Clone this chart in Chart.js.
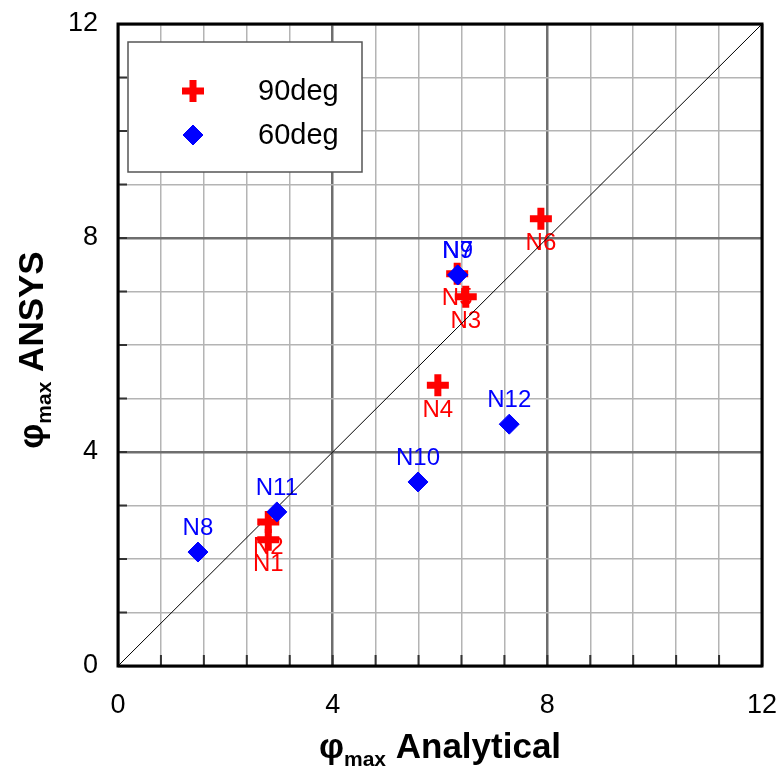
<!DOCTYPE html>
<html><head><meta charset="utf-8">
<script src="https://cdn.jsdelivr.net/npm/chart.js@4.4.1/dist/chart.umd.min.js"></script>
<style>html,body{margin:0;padding:0;background:#fff}#wrap{width:782px;height:774px}</style>
</head><body><div id="wrap"><canvas id="c" width="782" height="774"></canvas></div>
<script>
// ---- data ----
const seriesNames = ['90deg', '60deg'];
const labels90 = ['N1', 'N2', 'N3', 'N4', 'N5', 'N6'];
const x90 = [2.80, 2.80, 6.48, 5.96, 6.32, 7.88];
const y90 = [2.36, 2.69, 6.90, 5.25, 7.33, 8.36];
const labels60 = ['N7', 'N8', 'N9', 'N10', 'N11', 'N12'];
const x60 = [6.33, 1.49, 6.33, 5.59, 2.96, 7.29];
const y60 = [7.31, 2.13, 7.31, 3.44, 2.88, 4.52];
const diagX = [0, 12];
const diagY = [0, 12];
const xTickLabels = [0, 4, 8, 12];
const yTickLabels = [0, 4, 8, 12];
const xTitleMain = 'Analytical';
const yTitleMain = 'ANSYS';
const titleSymbol = 'φ';
const titleSub = 'max';

const RED = '#ff0000', BLUE = '#0000ff';
const FONT = '"Liberation Sans", Arial, sans-serif';

const pts = (xs, ys) => xs.map((x, i) => ({x: x, y: ys[i]}));
const isMajor = (v, list) => list.some(t => Math.abs(t - v) < 1e-6);

function gridColor(list) {
  return ctx => (ctx.tick && isMajor(ctx.tick.value, list)) ? '#6e6e6e' : '#b4b4b4';
}
function gridWidth(list) {
  return ctx => (ctx.tick && isMajor(ctx.tick.value, list)) ? 2.5 : 1.5;
}

function drawTitle(ctx, cx, cy, rot, main) {
  ctx.save();
  ctx.translate(cx, cy);
  ctx.rotate(rot);
  ctx.fillStyle = '#000';
  ctx.textBaseline = 'alphabetic';
  ctx.textAlign = 'left';
  const big = 'bold 35px ' + FONT, small = 'bold 21px ' + FONT;
  ctx.font = big;
  const w1 = ctx.measureText(titleSymbol).width;
  const w3 = ctx.measureText(' ' + main).width;
  ctx.font = small;
  const w2 = ctx.measureText(titleSub).width;
  const total = w1 + w2 + w3;
  let x = -total / 2;
  const base = 12;
  ctx.font = big;
  ctx.fillText(titleSymbol, x, base);
  x += w1;
  ctx.font = small;
  ctx.fillText(titleSub, x, base + 8);
  x += w2;
  ctx.font = big;
  ctx.fillText(' ' + main, x, base);
  ctx.restore();
}

function drawCross(ctx, x, y, r, w, color) {
  ctx.save();
  ctx.strokeStyle = color; ctx.lineWidth = w; ctx.lineCap = 'butt';
  ctx.beginPath();
  ctx.moveTo(x - r, y); ctx.lineTo(x + r, y);
  ctx.moveTo(x, y - r); ctx.lineTo(x, y + r);
  ctx.stroke();
  ctx.restore();
}
function drawDiamond(ctx, x, y, r, color) {
  ctx.save();
  ctx.fillStyle = color; ctx.strokeStyle = color; ctx.lineWidth = 1;
  ctx.beginPath();
  ctx.moveTo(x - r, y); ctx.lineTo(x, y - r); ctx.lineTo(x + r, y); ctx.lineTo(x, y + r);
  ctx.closePath(); ctx.fill(); ctx.stroke();
  ctx.restore();
}

const decorPlugin = {
  id: 'decor',
  beforeDatasetsDraw(chart) {
    const ctx = chart.ctx, xs = chart.scales.x, ys = chart.scales.y;
    ctx.save();
    ctx.font = '24px ' + FONT;
    ctx.textAlign = 'center';
    ctx.textBaseline = 'middle';
    ctx.fillStyle = RED;
    labels90.forEach((l, i) => {
      ctx.fillText(l, xs.getPixelForValue(x90[i]), ys.getPixelForValue(y90[i]) + 25);
    });
    ctx.fillStyle = BLUE;
    labels60.forEach((l, i) => {
      ctx.fillText(l, xs.getPixelForValue(x60[i]), ys.getPixelForValue(y60[i]) - 24);
    });
    ctx.restore();
  },
  afterDraw(chart) {
    const ctx = chart.ctx, a = chart.chartArea, xs = chart.scales.x, ys = chart.scales.y;
    ctx.save();
    // inward tick marks
    ctx.strokeStyle = '#333'; ctx.lineWidth = 2;
    ctx.beginPath();
    xs.ticks.forEach(t => {
      const px = xs.getPixelForValue(t.value);
      ctx.moveTo(px, a.bottom); ctx.lineTo(px, a.bottom - 11);
    });
    ys.ticks.forEach(t => {
      const py = ys.getPixelForValue(t.value);
      ctx.moveTo(a.left, py); ctx.lineTo(a.left + 9, py);
    });
    ctx.stroke();
    // frame
    ctx.strokeStyle = '#000'; ctx.lineWidth = 3;
    ctx.strokeRect(a.left, a.top, a.right - a.left, a.bottom - a.top);
    // legend box
    const lx = 128, ly = 42, lw = 234, lh = 130;
    ctx.fillStyle = '#fff';
    ctx.fillRect(lx, ly, lw, lh);
    ctx.strokeStyle = '#555'; ctx.lineWidth = 1.5;
    ctx.strokeRect(lx, ly, lw, lh);
    drawCross(ctx, 193, 91, 11, 7, RED);
    drawDiamond(ctx, 193, 135, 10, BLUE);
    ctx.fillStyle = '#000';
    ctx.font = '29px ' + FONT;
    ctx.textAlign = 'left';
    ctx.textBaseline = 'middle';
    ctx.fillText(seriesNames[0], 258, 92);
    ctx.fillText(seriesNames[1], 258, 136);
    // axis titles
    drawTitle(ctx, (a.left + a.right) / 2, 746, 0, xTitleMain);
    drawTitle(ctx, 31, (a.top + a.bottom) / 2 + 5, -Math.PI / 2, yTitleMain);
    ctx.restore();
  }
};

new Chart(document.getElementById('c'), {
  type: 'scatter',
  data: {
    datasets: [
      {
        label: 'diag', data: pts(diagX, diagY), showLine: true,
        borderColor: '#000', borderWidth: 1, pointRadius: 0, order: 3
      },
      {
        label: seriesNames[0], data: pts(x90, y90), pointStyle: 'cross',
        pointRadius: 11, pointHoverRadius: 11, borderWidth: 7, pointBorderWidth: 7,
        borderColor: RED, backgroundColor: RED, order: 2
      },
      {
        label: seriesNames[1], data: pts(x60, y60), pointStyle: 'rectRot',
        pointRadius: 10, pointHoverRadius: 10, borderWidth: 1,
        borderColor: BLUE, backgroundColor: BLUE, order: 1
      }
    ]
  },
  options: {
    responsive: false,
    animation: false,
    events: [],
    layout: {padding: {top: 24, right: 20, left: 0, bottom: 0}},
    plugins: {legend: {display: false}, tooltip: {enabled: false}, title: {display: false}},
    scales: {
      x: {
        type: 'linear', min: 0, max: 12,
        afterFit: s => { s.height = 108; s.paddingLeft = 0; s.paddingRight = 0; },
        ticks: {
          stepSize: 0.8, autoSkip: false, maxRotation: 0, padding: 23,
          color: '#000', font: {family: FONT, size: 27},
          callback: v => isMajor(v, xTickLabels) ? String(Math.round(v)) : ''
        },
        grid: {color: gridColor(xTickLabels), lineWidth: gridWidth(xTickLabels), drawTicks: false},
        border: {display: false}
      },
      y: {
        type: 'linear', min: 0, max: 12,
        afterFit: s => { s.width = 118; s.paddingTop = 0; s.paddingBottom = 0; },
        ticks: {
          stepSize: 1, autoSkip: false, padding: 20,
          color: '#000', font: {family: FONT, size: 27},
          callback: v => isMajor(v, yTickLabels) ? String(Math.round(v)) : ''
        },
        grid: {color: gridColor(yTickLabels), lineWidth: gridWidth(yTickLabels), drawTicks: false},
        border: {display: false}
      }
    }
  },
  plugins: [decorPlugin]
});
</script></body></html>
